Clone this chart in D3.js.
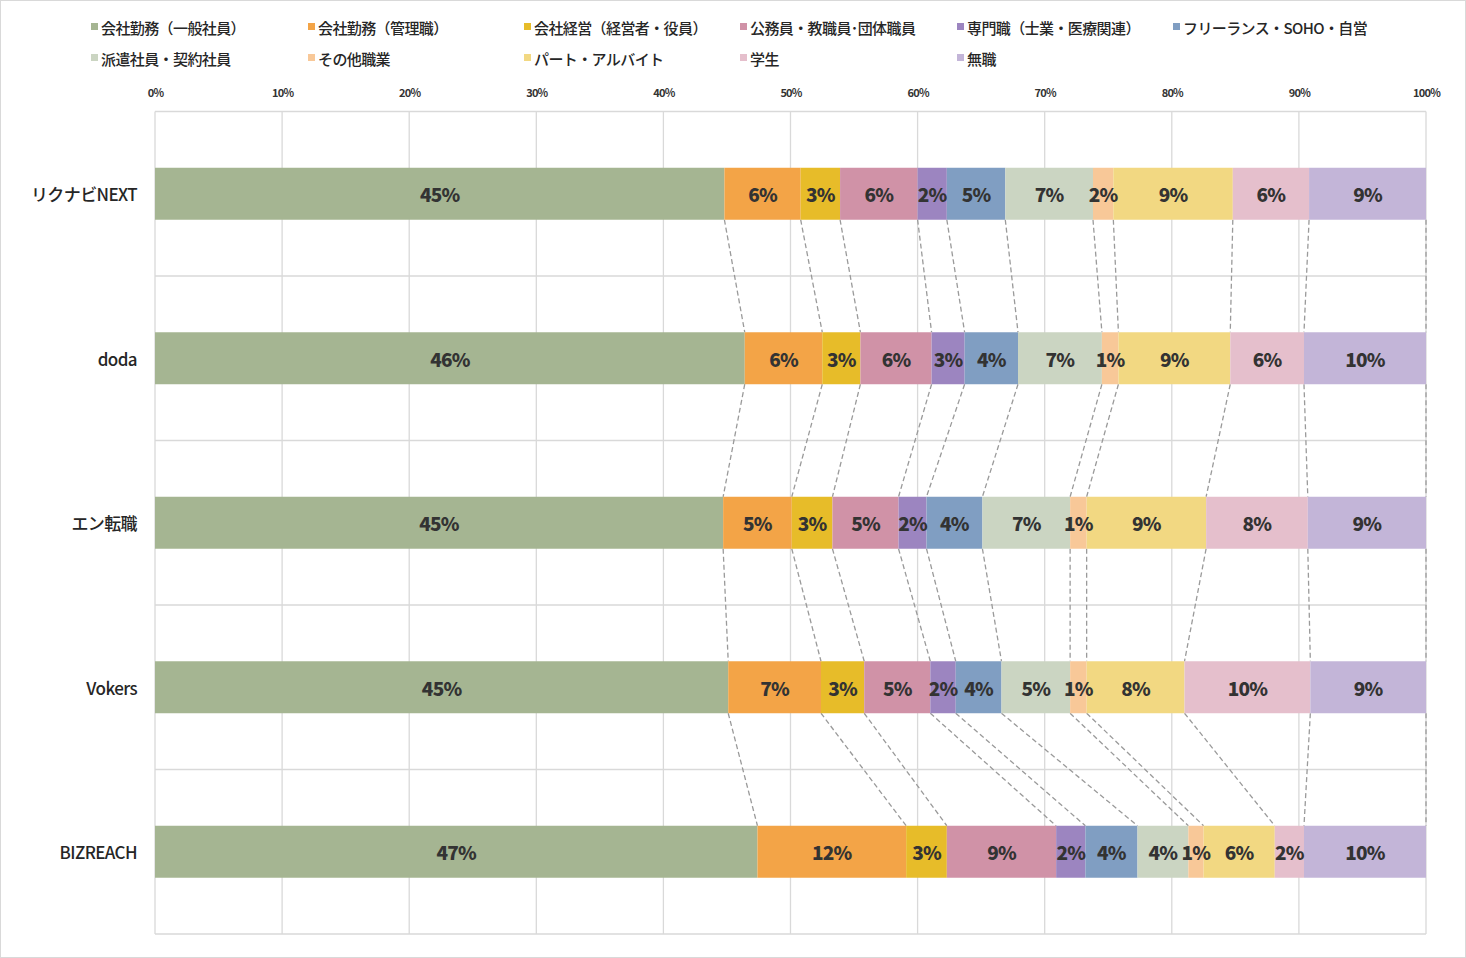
<!DOCTYPE html>
<html><head><meta charset="utf-8">
<script src="https://cdn.jsdelivr.net/npm/d3@7"></script>
<style>html,body{margin:0;padding:0;background:#fff}svg{display:block}</style>
</head><body>
<script>
const categories = ["リクナビNEXT","doda","エン転職","Vokers","BIZREACH"];
const seriesNames = ["会社勤務（一般社員）","会社勤務（管理職）","会社経営（経営者・役員）","公務員・教職員･団体職員","専門職（士業・医療関連）","フリーランス・SOHO・自営","派遣社員・契約社員","その他職業","パート・アルバイト","学生","無職"];
const seriesColors = ["#A5B592","#F3A447","#E7BC29","#D092A7","#9C85C0","#809EC2","#CBD5C2","#F8C898","#F2D882","#E5BFCC","#C3B5D8"];
// percentage values per category (rows) for each series (columns)
const valRikunabi = [44.8,6.0,3.1,6.1,2.3,4.6,6.9,1.6,9.4,6.0,9.2];
const valDoda     = [46.4,6.1,3.0,5.6,2.6,4.2,6.6,1.3,8.8,5.8,9.6];
const valEn       = [44.7,5.4,3.2,5.2,2.2,4.4,6.9,1.3,9.4,8.0,9.3];
const valVokers   = [45.1,7.3,3.4,5.2,2.0,3.6,5.4,1.3,7.7,9.9,9.1];
const valBizreach = [47.4,11.7,3.2,8.6,2.3,4.1,4.0,1.2,5.6,2.3,9.6];
const tickValues = [0,0.1,0.2,0.3,0.4,0.5,0.6,0.7,0.8,0.9,1.0];

const rows = [valRikunabi,valDoda,valEn,valVokers,valBizreach];
const W = 1466, H = 958;
const svg = d3.select("body").append("svg").attr("width",W).attr("height",H);
svg.append("rect").attr("x",0.5).attr("y",0.5).attr("width",W-1).attr("height",H-1)
  .attr("fill","#fff").attr("stroke","#d9d9d9");

const x = d3.scaleLinear().domain([0,1]).range([155,1426]);
const y = d3.scaleBand().domain(categories).range([111.5,934]).paddingInner(0.684).paddingOuter(0.342);
const step = y.step(), bw = y.bandwidth(), half = (step-bw)/2;

const FONT = "'Noto Sans CJK JP','Noto Sans',sans-serif";

// grid
const g = svg.append("g");
g.selectAll("line.v").data(tickValues).join("line")
  .attr("x1",d=>x(d)).attr("x2",d=>x(d)).attr("y1",111.5).attr("y2",934)
  .attr("stroke","#d9d9d9").attr("stroke-width",1.3);
const hLines = categories.map(c=>y(c)-half).concat([y(categories[categories.length-1])+bw+half]);
g.selectAll("line.h").data(hLines).join("line")
  .attr("x1",x(0)).attr("x2",x(1)).attr("y1",d=>d).attr("y2",d=>d)
  .attr("stroke","#d9d9d9").attr("stroke-width",1.3);

// top axis
const axis = d3.axisTop(x).tickValues(tickValues).tickFormat(d3.format(".0%")).tickSize(0).tickPadding(0);
const ax = svg.append("g").attr("transform","translate(0,97)").call(axis);
ax.select(".domain").remove();
ax.selectAll("text").attr("font-family",FONT).attr("font-size",11).attr("font-weight","bold")
  .attr("fill","#333").attr("letter-spacing","-0.8");

// stacked data
const stacks = rows.map((r,i)=>{
  let acc=0; return r.map((v,j)=>{const s={cat:categories[i],j,v,x0:acc/100,x1:(acc+v)/100}; acc+=v; return s;});
});

// series lines
const lg = svg.append("g");
for(let i=0;i<stacks.length-1;i++){
  for(let j=0;j<seriesNames.length;j++){
    const a=stacks[i][j], b=stacks[i+1][j];
    lg.append("line").attr("x1",x(a.x1)).attr("y1",y(a.cat)+bw).attr("x2",x(b.x1)).attr("y2",y(b.cat))
      .attr("stroke","#9a9a9a").attr("stroke-width",1.3).attr("stroke-dasharray","5,3");
  }
}

// bars
const bg = svg.append("g");
stacks.forEach(row=>{
  bg.selectAll(null).data(row).join("rect")
    .attr("x",d=>x(d.x0)).attr("width",d=>x(d.x1)-x(d.x0))
    .attr("y",d=>y(d.cat)).attr("height",bw).attr("fill",d=>seriesColors[d.j]);
  bg.selectAll(null).data(row).join("text")
    .attr("x",d=>(x(d.x0)+x(d.x1))/2).attr("y",d=>y(d.cat)+bw/2)
    .attr("text-anchor","middle").attr("dominant-baseline","central")
    .attr("font-family",FONT).attr("font-size",19).attr("font-weight",900)
    .attr("fill","#333").attr("letter-spacing","-0.8")
    .text(d=>Math.round(d.v)+"%");
});

// category labels
svg.append("g").selectAll("text").data(categories).join("text")
  .attr("x",137).attr("y",d=>y(d)+bw/2).attr("text-anchor","end").attr("dominant-baseline","central")
  .attr("font-family",FONT).attr("font-size",17).attr("font-weight",500).attr("fill","#262626").attr("letter-spacing","-0.6")
  .text(d=>d);

// legend
const legX = [91,308,524,740,957,1173];
const leg = svg.append("g");
seriesNames.forEach((n,i)=>{
  const r = i<6?0:1, c = i<6?i:i-6;
  const lx = legX[c], ly = r===0?27:58;
  leg.append("rect").attr("x",lx).attr("y",ly-4).attr("width",7).attr("height",7).attr("fill",seriesColors[i]);
  leg.append("text").attr("x",lx+10).attr("y",ly).attr("dominant-baseline","central")
    .attr("font-family",FONT).attr("font-size",15).attr("font-weight",500).attr("fill","#262626").attr("letter-spacing","-0.6")
    .text(n);
});
</script>
</body></html>
